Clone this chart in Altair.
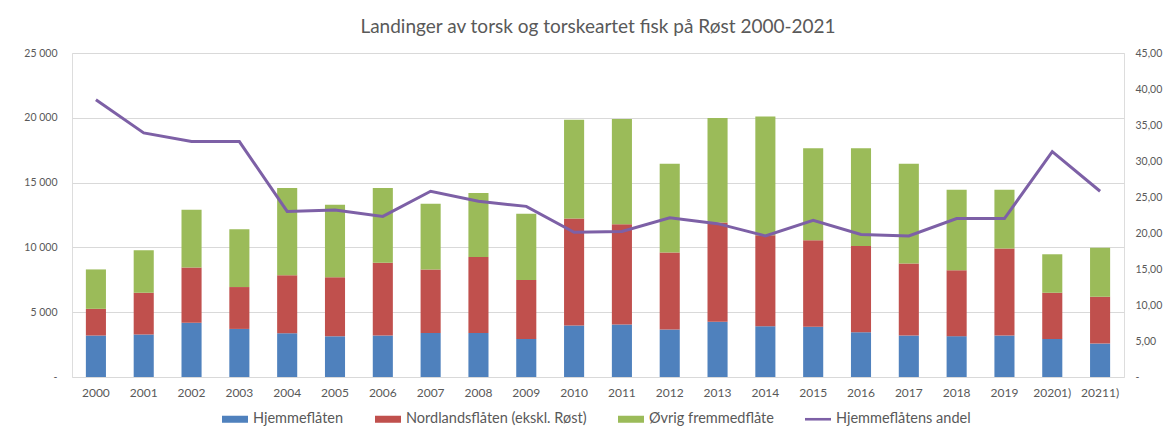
import altair as alt
import pandas as pd

# ---- data ----
years = ["2000", "2001", "2002", "2003", "2004", "2005", "2006", "2007", "2008", "2009",
         "2010", "2011", "2012", "2013", "2014", "2015", "2016", "2017", "2018", "2019",
         "20201)", "20211)"]
hjemme = [3200, 3270, 4180, 3710, 3380, 3140, 3200, 3400, 3400, 2940,
          3970, 4050, 3660, 4260, 3920, 3870, 3450, 3200, 3150, 3200, 2940, 2580]
nordland = [2060, 3230, 4260, 3230, 4480, 4550, 5620, 4900, 5860, 4540,
            8260, 7740, 5940, 7660, 7020, 6680, 6660, 5550, 5080, 6710, 3560, 3610]
ovrig = [3040, 3280, 4460, 4460, 6720, 5610, 5760, 5070, 4940, 5120,
         7620, 8110, 6860, 8060, 9160, 7110, 7550, 7710, 6220, 4540, 2970, 3790]
andel = [38.5, 33.9, 32.7, 32.7, 23.0, 23.2, 22.3, 25.8, 24.4, 23.7,
         20.1, 20.2, 22.1, 21.3, 19.6, 21.75, 19.8, 19.6, 22.0, 22.0, 31.3, 25.8]

series_names = ["Hjemmeflåten", "Nordlandsflåten (ekskl. Røst)", "Øvrig fremmedflåte", "Hjemmeflåtens andel"]
colors = ["#4F81BD", "#C0504D", "#9BBB59", "#7D60A6"]
left_ticks = [0, 5000, 10000, 15000, 20000, 25000]
right_ticks = [0, 5, 10, 15, 20, 25, 30, 35, 40, 45]
title_text = "Landinger av torsk og torskeartet fisk på Røst 2000-2021"

rows = []
for i, yr in enumerate(years):
    for k, (name, vals) in enumerate(zip(series_names[:3], [hjemme, nordland, ovrig])):
        rows.append({"year": yr, "series": name, "value": vals[i], "order": k})
bars_df = pd.DataFrame(rows)
line_df = pd.DataFrame({"year": years, "andel": andel})
legend_df = pd.DataFrame({"series": series_names})

font = "Lato"
grey = "#595959"
rect_path = "M-1,-0.27L1,-0.27L1,0.27L-1,0.27Z"
line_path = "M-1,-0.1L1,-0.1L1,0.1L-1,0.1Z"

color_scale = alt.Scale(domain=series_names, range=colors)

leg = alt.Legend(orient="none", legendX=150, legendY=353, direction="horizontal",
                 title=None, columnPadding=31, labelOffset=5, symbolSize=676,
                 symbolStrokeWidth=0, symbolOpacity=1, labelFontSize=14.5,
                 labelLimit=0, labelFont=font, labelColor=grey)

x_enc = alt.X("year:N", sort=years, title=None,
              scale=alt.Scale(paddingInner=0.58, paddingOuter=0.29),
              axis=alt.Axis(labelAngle=0, ticks=False, domain=False, labelPadding=10,
                            labelFontSize=12, labelColor=grey, labelFont=font))

bars = alt.Chart(bars_df).mark_bar().encode(
    x=x_enc,
    y=alt.Y("value:Q", stack="zero", title=None,
            scale=alt.Scale(domain=[0, 25000], nice=False),
            axis=alt.Axis(values=left_ticks, ticks=False, domain=False, grid=True,
                          gridColor="#d9d9d9", labelPadding=15, labelFontSize=10.5,
                          labelColor=grey, labelFont=font,
                          labelExpr="datum.value == 0 ? '-\u00a0\u00a0\u00a0' : replace(format(datum.value, ','), ',', ' ')")),
    color=alt.Color("series:N", scale=color_scale, sort=series_names, legend=leg),
    order=alt.Order("order:Q", sort="ascending"),
)

line = alt.Chart(line_df).mark_line(color=colors[3], strokeWidth=3).encode(
    x=x_enc,
    y=alt.Y("andel:Q", title=None,
            scale=alt.Scale(domain=[0, 45], nice=False),
            axis=alt.Axis(orient="right", values=right_ticks, ticks=False, domain=False,
                          grid=False, labelPadding=11, labelFontSize=10.5,
                          labelColor=grey, labelFont=font,
                          labelExpr="datum.value == 0 ? '\u00a0\u00a0-' : replace(format(datum.value, '.2f'), '.', ',')")),
)

legend_layer = alt.Chart(legend_df).mark_point(filled=True, opacity=0, size=676).encode(
    color=alt.Color("series:N", scale=color_scale, sort=series_names, legend=leg),
    shape=alt.Shape("series:N", sort=series_names,
                    scale=alt.Scale(domain=series_names, range=[rect_path] * 3 + [line_path]),
                    legend=leg),
)

chart = alt.layer(bars, line, legend_layer).resolve_scale(
    y="independent"
).properties(
    width=1052,
    height=324,
    title=alt.Title(title_text, fontSize=19, font=font, color=grey,
                    fontWeight="normal", anchor="middle", offset=11),
    autosize=alt.AutoSizeParams(type="none"),
    padding={"left": 64, "top": 45, "right": 39, "bottom": 54},
).configure_view(stroke=None).configure(background="white")

chart.save("out.html", embed_options={"renderer": "svg", "actions": False})
